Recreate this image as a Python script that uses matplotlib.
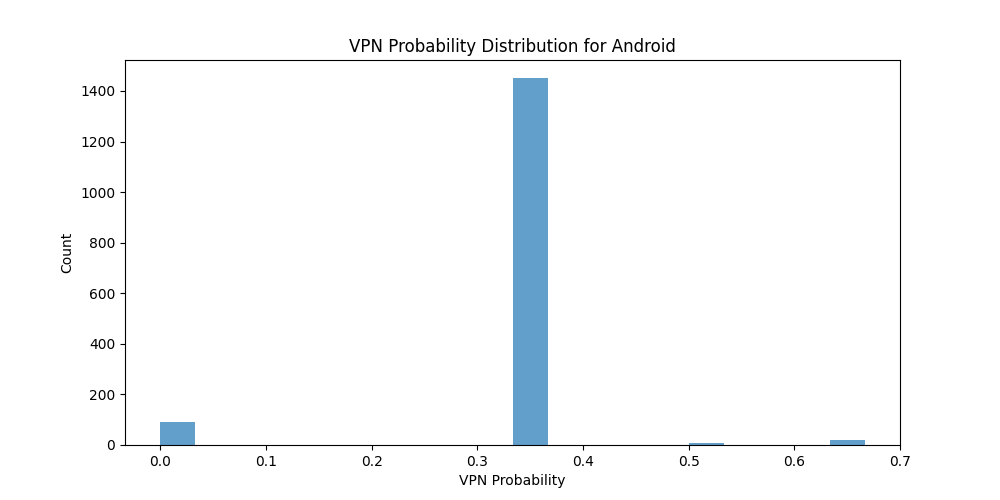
import matplotlib
matplotlib.use("Agg")
import matplotlib.pyplot as plt

probabilities = [0.0, 1/3, 0.5, 2/3]
counts = [90, 1450, 7, 18]

fig, ax = plt.subplots(figsize=(10, 5), dpi=100)
ax.hist(probabilities, bins=20, weights=counts, alpha=0.7)
ax.set_title("VPN Probability Distribution for Android")
ax.set_xlabel("VPN Probability")
ax.set_ylabel("Count")
fig.savefig("out.png")
